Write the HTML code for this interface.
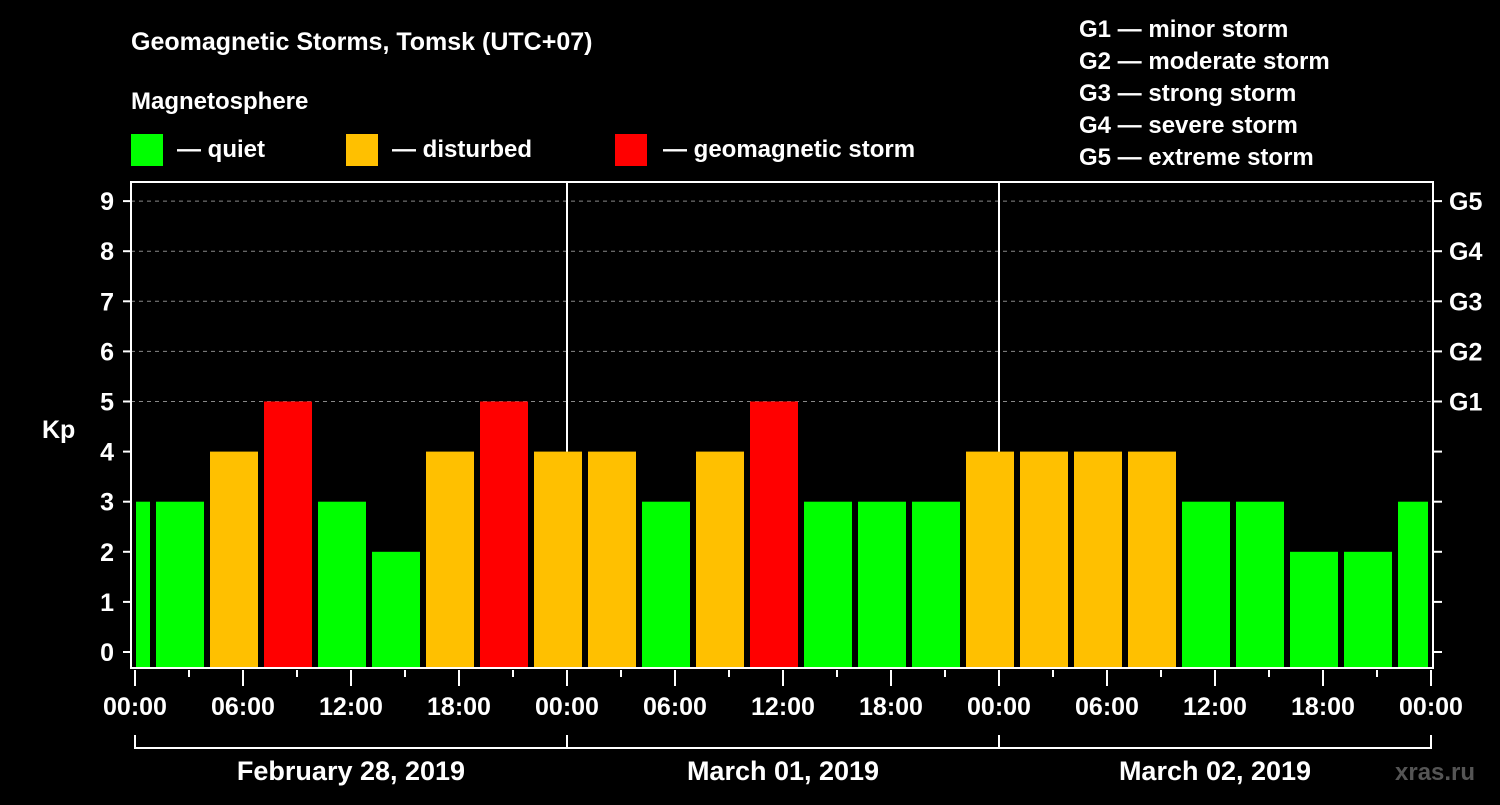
<!DOCTYPE html>
<html><head><meta charset="utf-8"><style>
body{margin:0;background:#000;width:1500px;height:800px;overflow:hidden}
svg text{font-family:"Liberation Sans",sans-serif;font-weight:bold;fill:#fff}
</style></head><body>
<svg id="c" width="1500" height="800">
<text x="131" y="50" font-size="25">Geomagnetic Storms, Tomsk (UTC+07)</text>
<text x="131" y="109" font-size="24">Magnetosphere</text>
<rect x="131" y="134" width="32" height="32" fill="#00ff00"/>
<text x="177" y="157" font-size="24">— quiet</text>
<rect x="346" y="134" width="32" height="32" fill="#ffc000"/>
<text x="392" y="157" font-size="24">— disturbed</text>
<rect x="615" y="134" width="32" height="32" fill="#ff0000"/>
<text x="663" y="157" font-size="24">— geomagnetic storm</text>
<g font-size="24">
<text x="1079" y="37">G1 — minor storm</text>
<text x="1079" y="69">G2 — moderate storm</text>
<text x="1079" y="101">G3 — strong storm</text>
<text x="1079" y="133">G4 — severe storm</text>
<text x="1079" y="165">G5 — extreme storm</text>
</g>
<text x="42" y="438" font-size="25">Kp</text>
<text x="1395" y="780" font-size="24" style="fill:#555">xras.ru</text>
<g id="g"></g>
</svg>
<script>
const kpValues=[3,3,4,5,3,2,4,5,4,4,3,4,5,3,3,3,4,4,4,4,3,3,2,2,3];
const yTicks=[0,1,2,3,4,5,6,7,8,9];
const gLabels=["G1","G2","G3","G4","G5"];
const timeLabels=["00:00","06:00","12:00","18:00"];
const dateLabels=["February 28, 2019","March 01, 2019","March 02, 2019"];
const L=131,R=1433,T=182,B=668,X0=135,HOUR=18,Y0=652,UNIT=50.1;
const x=h=>X0+h*HOUR, y=v=>Y0-v*UNIT;
const NS="http://www.w3.org/2000/svg", g=document.getElementById('g');
function el(t,a){const e=document.createElementNS(NS,t);for(const k in a)e.setAttribute(k,a[k]);g.appendChild(e);return e;}
// grid
for(let v=5;v<=9;v++){const e=el('line',{x1:L,x2:R,y1:y(v),y2:y(v),stroke:'#888','stroke-dasharray':'4,4'});

}
// day separators
[24,48].forEach(h=>{const e=el('line',{x1:x(h),x2:x(h),y1:T,y2:B,stroke:'#fff','stroke-width':2});

});
// bars
kpValues.forEach((v,i)=>{
 let s=x(-2+3*i)+3, e2=x(1+3*i)-3;
 s=Math.max(s,L+5); e2=Math.min(e2,R-5);
 const c=v>=5?'#ff0000':v>=4?'#ffc000':'#00ff00';
 const r=el('rect',{x:s,y:y(v),width:e2-s,height:B-y(v),fill:c});
 
 
});
// frame
const f=el('rect',{x:L,y:T,width:R-L,height:B-T,fill:'none',stroke:'#fff','stroke-width':2});


yTicks.forEach(v=>{
 el('line',{x1:L-8,x2:L,y1:y(v),y2:y(v),stroke:'#fff','stroke-width':2});
 el('line',{x1:R,x2:R+9,y1:y(v),y2:y(v),stroke:'#fff','stroke-width':2});
 const t=el('text',{x:114,y:y(v)+9,'text-anchor':'end','font-size':25});t.textContent=v;
 
 
});
gLabels.forEach((s,i)=>{const t=el('text',{x:1449,y:y(5+i)+9,'font-size':25});t.textContent=s;
 
 });
for(let h=0;h<=72;h+=3){const big=h%6==0;el('line',{x1:x(h),x2:x(h),y1:B+2,y2:B+(big?18:9),stroke:'#fff','stroke-width':2});}
for(let h=0;h<=72;h+=6){const t=el('text',{x:x(h),y:715,'text-anchor':'middle','font-size':25});
 t.textContent=h==72?timeLabels[0]:timeLabels[(h/6)%4];
 
 }
el('line',{x1:x(0),x2:x(72),y1:748,y2:748,stroke:'#fff','stroke-width':2});
[0,24,48,72].forEach(h=>el('line',{x1:x(h),x2:x(h),y1:735,y2:749,stroke:'#fff','stroke-width':2}));
dateLabels.forEach((d,i)=>{const t=el('text',{x:x(12+24*i),y:780,'text-anchor':'middle','font-size':27});t.textContent=d;
 
 });
</script>
</body></html>
